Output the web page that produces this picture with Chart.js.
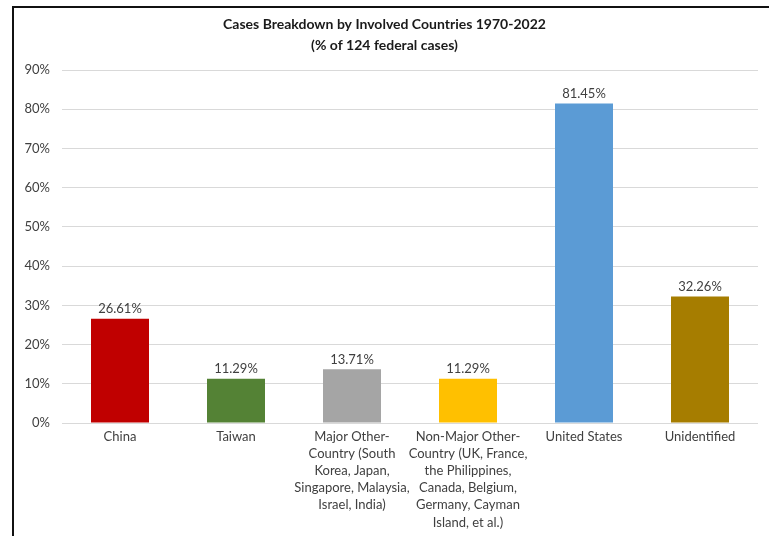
<!DOCTYPE html>
<html>
<head>
<meta charset="utf-8">
<script src="https://cdn.jsdelivr.net/npm/chart.js@4.4.1/dist/chart.umd.min.js"></script>
<style>
  html, body { margin: 0; padding: 0; background: #fff; }
  #wrap { position: relative; width: 769px; height: 536px; }
  #frame { position: absolute; left: 12px; top: 6px; right: 0; bottom: 0; border-top: 2px solid #111; border-left: 2px solid #111; pointer-events: none; }
</style>
</head>
<body>
<div id="wrap">
  <canvas id="chart" width="769" height="536"></canvas>
  <div id="frame"></div>
</div>
<script>
// categories (multi-line labels as in the source)
var categories = [
    'China',
    'Taiwan',
    ['Major Other-', 'Country (South', 'Korea, Japan,', 'Singapore, Malaysia,', 'Israel, India)'],
    ['Non-Major Other-', 'Country (UK, France,', 'the Philippines,', 'Canada, Belgium,', 'Germany, Cayman', 'Island, et al.)'],
    'United States',
    'Unidentified'
];
// percent of 124 federal cases
var shares = [26.61, 11.29, 13.71, 11.29, 81.45, 32.26];
var barColors = ['#C00000', '#548235', '#A5A5A5', '#FFC000', '#5B9BD5', '#A67D00'];
var titleLines = ['Cases Breakdown by Involved Countries 1970-2022', '(% of 124 federal cases)'];

var FONT = 'Lato, "Open Sans", sans-serif';

// value labels above the bars
var valueLabels = {
    id: 'valueLabels',
    afterDatasetsDraw: function(chart){
        var ctx = chart.ctx;
        var meta = chart.getDatasetMeta(0);
        ctx.save();
        ctx.font = '13px ' + FONT;
        ctx.fillStyle = '#404040';
        ctx.textAlign = 'center';
        ctx.textBaseline = 'bottom';
        meta.data.forEach(function(bar, i){
            ctx.fillText(shares[i].toFixed(2) + '%', bar.x, bar.y - 3);
        });
        ctx.restore();
    }
};

var ctx = document.getElementById('chart').getContext('2d');
var myChart = new Chart(ctx, {
    type: 'bar',
    data: {
        labels: categories,
        datasets: [{
            label: 'Share of cases',
            data: shares,
            backgroundColor: barColors,
            borderWidth: 0,
            barPercentage: 0.5,
            categoryPercentage: 1.0
        }]
    },
    options: {
        responsive: false,
        animation: false,
        layout: { padding: { left: 11, right: 11, top: 0, bottom: 0 } },
        plugins: {
            legend: { display: false },
            tooltip: { enabled: false },
            title: {
                display: true,
                text: titleLines,
                color: '#1a1a1a',
                font: { family: FONT, size: 14, weight: 'bold', lineHeight: 1.5 },
                padding: { top: 14, bottom: 14 }
            }
        },
        scales: {
            x: {
                grid: { display: false, drawTicks: false },
                border: { display: false },
                ticks: {
                    color: '#404040',
                    font: { family: FONT, size: 13, lineHeight: 1.32 },
                    maxRotation: 0,
                    minRotation: 0,
                    autoSkip: false,
                    padding: 5
                }
            },
            y: {
                min: 0,
                max: 90,
                afterFit: function(scale){ scale.width = 51; },
                grid: { color: '#D9D9D9', lineWidth: 1, drawTicks: false },
                border: { display: false },
                ticks: {
                    stepSize: 10,
                    color: '#404040',
                    font: { family: FONT, size: 13 },
                    padding: 12,
                    callback: function(v){ return v + '%'; }
                }
            }
        }
    },
    plugins: [valueLabels]
});
</script>
</body>
</html>
